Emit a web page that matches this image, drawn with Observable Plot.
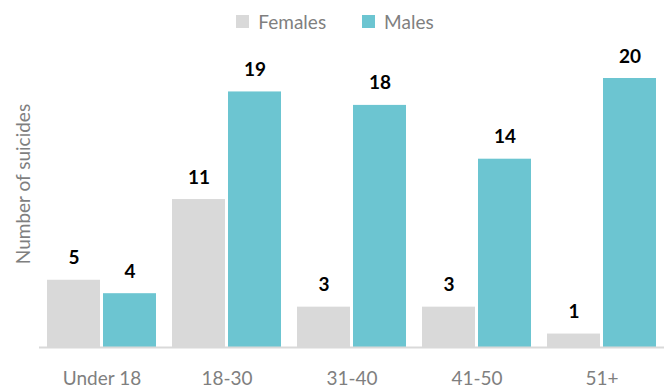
<!DOCTYPE html>
<html>
<head>
<meta charset="utf-8">
<script src="https://cdn.jsdelivr.net/npm/d3@7"></script>
<script src="https://cdn.jsdelivr.net/npm/@observablehq/plot@0.6"></script>
<style>
  html, body { margin: 0; padding: 0; background: #fff; }
  body { width: 670px; height: 388px; overflow: hidden; font-family: "Lato", sans-serif; }
  .legend { height: 34px; display: flex; justify-content: center; align-items: center; color: #7f7f7f; font-size: 19px; padding-top: 8px; padding-left: 0; box-sizing: border-box; }
  .legend .item { display: flex; align-items: center; }
  .legend .item + .item { margin-left: 36px; }
  .legend .sw { width: 13px; height: 13px; margin-right: 9px; }
</style>
</head>
<body>
<div class="legend">
  <div class="item"><span class="sw" style="background:#d9d9d9"></span>Females</div>
  <div class="item"><span class="sw" style="background:#6cc5d1"></span>Males</div>
</div>
<div id="chart"></div>
<script>
// Suicides by age group and sex
const ageGroups = ["Under 18", "18-30", "31-40", "41-50", "51+"];
const females = [5, 11, 3, 3, 1];
const males = [4, 19, 18, 14, 20];
const yLabel = "Number of suicides";

const femaleColor = "#d9d9d9";
const maleColor = "#6cc5d1";

const femaleRows = ageGroups.map((age, i) => ({age, value: females[i]}));
const maleRows = ageGroups.map((age, i) => ({age, value: males[i]}));

// Each age band holds two bars side by side: females on the left half, males on the right
const halfInset = 56;
const labelShift = 28;

const chart = Plot.plot({
  width: 670,
  height: 354,
  marginTop: 44,
  marginBottom: 41,
  marginLeft: 39,
  marginRight: 6,
  style: {fontFamily: "Lato, sans-serif", fontSize: "19px", color: "#7f7f7f", background: "#fff"},
  x: {domain: ageGroups, paddingInner: 0.128, paddingOuter: 0.064, label: null},
  y: {domain: [0, 20], axis: null},
  marks: [
    Plot.barY(femaleRows, {x: "age", y: "value", fill: femaleColor, insetRight: halfInset, insetLeft: 0}),
    Plot.barY(maleRows, {x: "age", y: "value", fill: maleColor, insetLeft: halfInset, insetRight: 0}),
    Plot.ruleY([0], {stroke: "#d9d9d9", strokeWidth: 2}),
    Plot.text(femaleRows, {x: "age", y: "value", text: d => String(d.value), dx: -labelShift, dy: -16, lineAnchor: "bottom", fontSize: 19, fontWeight: "bold", fill: "#000"}),
    Plot.text(maleRows, {x: "age", y: "value", text: d => String(d.value), dx: labelShift, dy: -16, lineAnchor: "bottom", fontSize: 19, fontWeight: "bold", fill: "#000"}),
    Plot.axisX({tickSize: 0, tickPadding: 24, label: null, fill: "#7f7f7f", fontSize: 19}),
    Plot.text([yLabel], {frameAnchor: "left", textAnchor: "middle", rotate: -90, dx: -16, dy: -29, fontSize: 19, fill: "#7f7f7f"})
  ]
});
document.getElementById("chart").appendChild(chart);
</script>
</body>
</html>
